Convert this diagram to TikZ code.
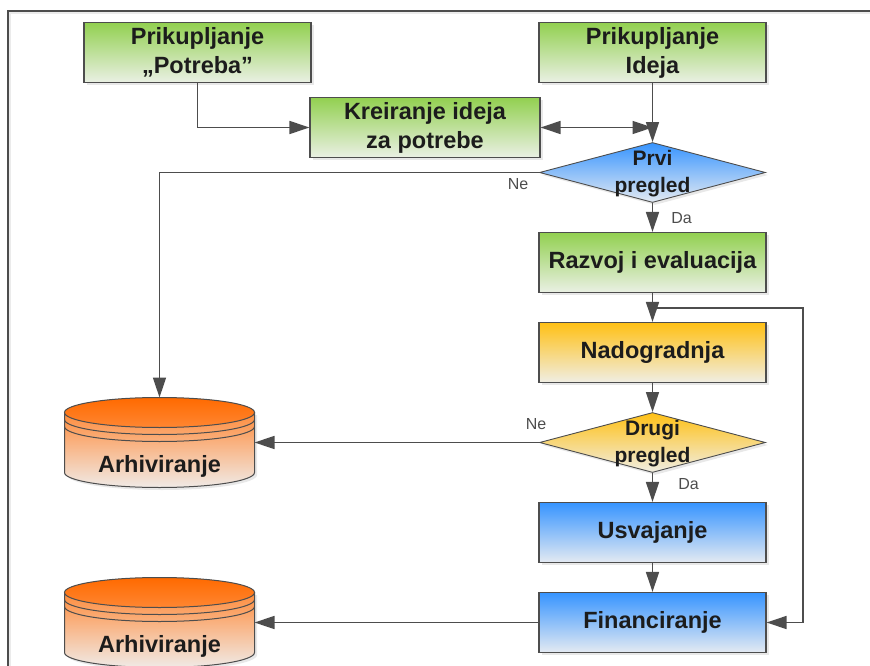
\documentclass[tikz,border=0pt]{standalone}
\usepackage{fontspec}
\setmainfont{Liberation Sans}
\usetikzlibrary{shapes.geometric, arrows.meta, shadows}
\definecolor{linegray}{HTML}{4D4D4D}
\definecolor{textgray}{HTML}{1C1C1C}
\definecolor{greentop}{RGB}{146,208,80}
\definecolor{greenend}{RGB}{234,240,228}
\definecolor{yellowtop}{RGB}{255,192,20}
\definecolor{yellowend}{RGB}{240,238,228}
\definecolor{bluetop}{RGB}{54,148,255}
\definecolor{blueend}{RGB}{228,234,242}
\tikzstyle{softshadow} = [drop shadow={opacity=0.18, shadow xshift=2.5pt, shadow yshift=-2.5pt}]
\tikzstyle{process} = [rectangle, minimum width=227pt, minimum height=60pt, inner sep=0pt, align=center, text=textgray, font=\fontsize{23.5}{29}\selectfont\bfseries, draw=linegray, line width=1.1pt, softshadow]
\tikzstyle{greenbox} = [process, top color=greentop, bottom color=greenend]
\tikzstyle{yellowbox} = [process, top color=yellowtop, bottom color=yellowend]
\tikzstyle{bluebox} = [process, top color=bluetop, bottom color=blueend]
\tikzstyle{check} = [diamond, aspect=3.75, minimum width=226pt, minimum height=60pt, inner sep=0pt, draw=linegray, line width=0.9pt, softshadow]
\tikzstyle{checktxt} = [align=center, text=textgray, font=\fontsize{21}{27}\selectfont\bfseries, yshift=-1.5pt]
\tikzstyle{archive} = [rectangle, minimum width=190pt, minimum height=90pt, inner sep=0pt, outer sep=0pt]
\tikzstyle{archivebody} = [line width=1pt, draw=linegray, top color={rgb,255:red,255;green,140;blue,60}, bottom color={rgb,255:red,240;green,234;blue,230}, softshadow]
\tikzstyle{archivelid} = [line width=1pt, draw=linegray, top color={rgb,255:red,255;green,106;blue,0}, bottom color={rgb,255:red,255;green,134;blue,50}]
\tikzstyle{archivetxt} = [text=textgray, font=\fontsize{23.5}{28}\selectfont\bfseries]
\tikzstyle{edgetxt} = [text=linegray, font=\fontsize{16}{18}\selectfont]
\tikzstyle{arrow} = [line width=1.5pt, draw=linegray, -{Triangle[length=20pt,width=13pt]}]
\begin{document}
\begin{tikzpicture}[node distance=90pt]
   \useasboundingbox (0pt,0pt) rectangle (870pt,-666pt);
   % frame
   \draw [line width=2.5pt, draw=black!8] (10pt,-666pt) -- (10pt,-13pt) -- (870pt,-13pt);
   \draw [line width=1.2pt, draw=linegray] (8pt,-666pt) -- (8pt,-11pt) -- (870pt,-11pt);

   \node (ideja) [greenbox] at (652.5pt,-52.5pt) {Prikupljanje\\Ideja};
   \node (potreba) [greenbox, left of=ideja, xshift=-365pt] {Prikupljanje\\„Potreba”};
   \node (kreiranje) [greenbox, minimum width=230pt, below of=ideja, yshift=15pt, xshift=-227.5pt] {Kreiranje ideja\\za potrebe};
   \node (prvi) [check, below of=ideja, yshift=-30pt, top color=bluetop, bottom color=blueend, label={[checktxt]center:Prvi\\pregled}] {};
   \node (razvoj) [greenbox, below of=prvi] {Razvoj i evaluacija};
   \node (nadogradnja) [yellowbox, below of=razvoj] {Nadogradnja};
   \node (drugi) [check, below of=nadogradnja, top color=yellowtop, bottom color=yellowend, label={[checktxt]center:Drugi\\pregled}] {};
   \node (usvajanje) [bluebox, below of=drugi] {Usvajanje};
   \node (financiranje) [bluebox, below of=usvajanje] {Financiranje};
   \node (arhiva1) [archive, left of=drugi, xshift=-403pt] {};
   \node (arhiva2) [archive, left of=financiranje, xshift=-403pt] {};

   % cylinders
   \foreach \lid in {arhiva1, arhiva2} {
      \draw [archivebody] ([yshift=-15pt]\lid.north west) -- ([yshift=15pt]\lid.south west) arc (180:360:95pt and 15pt) -- ([yshift=-15pt]\lid.north east) -- cycle;
      \draw [line width=1pt, draw=linegray] ([yshift=-22pt]\lid.north west) arc (180:360:95pt and 15pt);
      \draw [line width=1pt, draw=linegray] ([yshift=-29pt]\lid.north west) arc (180:360:95pt and 15pt);
      \draw [archivelid] ([yshift=-15pt]\lid.north) ellipse (95pt and 15pt);
      \node [archivetxt] at ([yshift=-23.5pt]\lid.center) {Arhiviranje};
   }

   \coordinate (junction) at (prvi.north |- kreiranje.east);
   \coordinate (turn) at ([yshift=-15pt]razvoj.south);

   \draw [arrow] (potreba.south) |- (kreiranje.west);
   \draw [arrow] (ideja.south) -- (prvi.north);
   \draw [arrow, {Triangle[length=20pt,width=13pt]}-{Triangle[length=20pt,width=13pt]}] (kreiranje.east) -- (junction);
   \draw [arrow] (prvi.west) -| node[edgetxt, at start, xshift=-21pt, yshift=-12pt] {Ne} (arhiva1.north);
   \draw [arrow] (prvi.south) -- node[edgetxt, xshift=29pt, yshift=-1pt] {Da} (razvoj.north);
   \draw [arrow] (razvoj.south) -- (nadogradnja.north);
   \draw [arrow] (turn) -- ++(150.5pt,0pt) |- (financiranje.east);
   \draw [arrow] (nadogradnja.south) -- (drugi.north);
   \draw [arrow] (drugi.west) -- node[edgetxt, at start, xshift=-3pt, yshift=18pt] {Ne} (arhiva1.east);
   \draw [arrow] (drugi.south) -- node[edgetxt, xshift=36pt, yshift=3pt] {Da} (usvajanje.north);
   \draw [arrow] (usvajanje.south) -- (financiranje.north);
   \draw [arrow] (financiranje.west) -- (arhiva2.east);
\end{tikzpicture}
\end{document}
